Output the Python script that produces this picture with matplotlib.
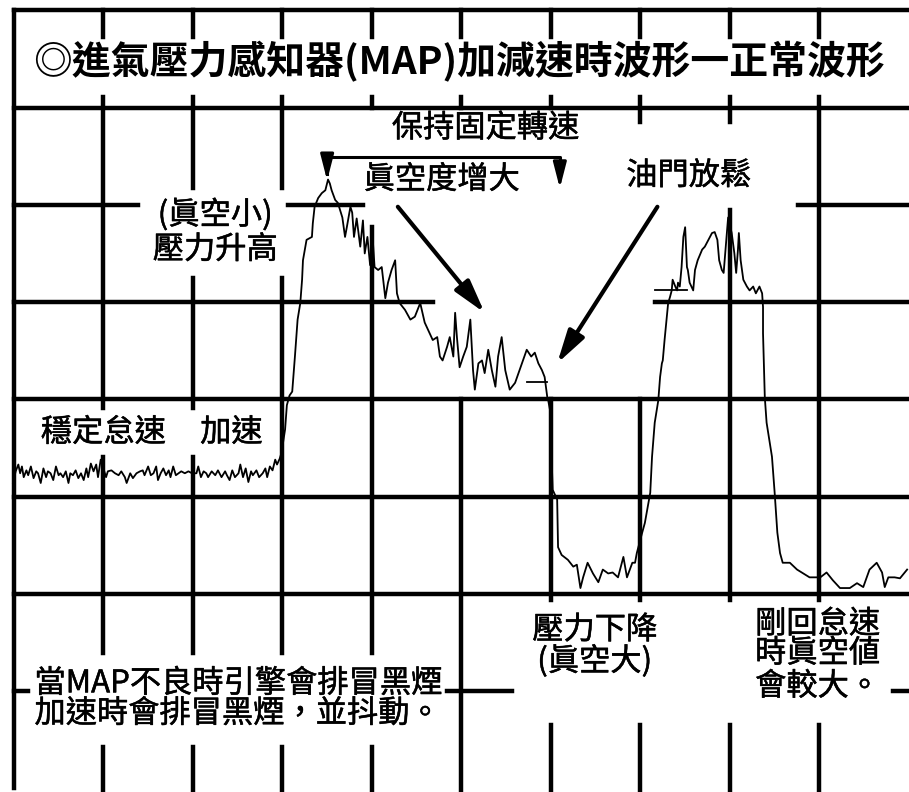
import matplotlib
matplotlib.use('Agg')
import numpy as np
import matplotlib.pyplot as plt
import matplotlib.patheffects as pe

plt.rcParams['font.family'] = ['Noto Sans CJK TC', 'DejaVu Sans']

# scope trace, x in time divisions (0-10), y in volt divisions (0-8)
idle_t = [-0.01, 0.02, 0.05, 0.07, 0.09, 0.11, 0.14, 0.16, 0.19, 0.22,
          0.25, 0.27, 0.30, 0.33, 0.36, 0.38, 0.41, 0.44, 0.47, 0.50,
          0.52, 0.55, 0.58, 0.61, 0.63, 0.66, 0.69, 0.72, 0.75, 0.78,
          0.81, 0.83, 0.86, 0.89, 0.92, 0.94, 0.97,
          1.03, 1.05, 1.09, 1.13, 1.17, 1.20, 1.24, 1.26, 1.30, 1.33,
          1.37, 1.41, 1.44, 1.46, 1.50, 1.53, 1.56, 1.59, 1.61, 1.64,
          1.67, 1.70, 1.73, 1.75, 1.78, 1.81, 1.84, 1.87, 1.91, 1.95, 1.99,
          2.04, 2.06, 2.09, 2.12, 2.15, 2.17, 2.21, 2.25, 2.28, 2.32,
          2.36, 2.38, 2.41, 2.44, 2.47, 2.51, 2.53, 2.56, 2.59, 2.62,
          2.65, 2.67, 2.71, 2.74, 2.78, 2.81, 2.83, 2.86, 2.89, 2.92,
          2.94, 2.97, 2.99]
idle_v = [3.14, 3.26, 3.33, 3.24, 3.31, 3.20, 3.27, 3.22, 3.31, 3.19,
          3.26, 3.24, 3.14, 3.29, 3.20, 3.26, 3.24, 3.17, 3.31, 3.22,
          3.24, 3.20, 3.26, 3.14, 3.24, 3.22, 3.27, 3.19, 3.24, 3.17,
          3.29, 3.20, 3.34, 3.26, 3.33, 3.20, 3.38,
          3.20, 3.26, 3.27, 3.24, 3.22, 3.26, 3.20, 3.14, 3.24, 3.19,
          3.24, 3.26, 3.27, 3.22, 3.31, 3.22, 3.24, 3.31, 3.17, 3.24,
          3.29, 3.22, 3.27, 3.20, 3.31, 3.22, 3.24, 3.26, 3.24, 3.26, 3.24,
          3.24, 3.31, 3.20, 3.26, 3.24, 3.20, 3.26, 3.22, 3.27, 3.20,
          3.26, 3.22, 3.17, 3.27, 3.20, 3.24, 3.33, 3.20, 3.29, 3.15,
          3.26, 3.22, 3.27, 3.20, 3.24, 3.29, 3.20, 3.31, 3.27, 3.38,
          3.33, 3.39, 3.45]

accel_t = [3.03, 3.05, 3.08, 3.11, 3.14, 3.17, 3.20, 3.22, 3.23, 3.27,
           3.33, 3.34, 3.36, 3.40, 3.44, 3.48, 3.51, 3.53, 3.55, 3.59,
           3.62, 3.67, 3.70, 3.72, 3.76, 3.78, 3.80, 3.83, 3.87, 3.90,
           3.92, 3.95, 3.98, 4.01, 4.03, 4.07, 4.11, 4.15, 4.18, 4.22,
           4.26, 4.28, 4.31, 4.37, 4.43, 4.48, 4.54, 4.59, 4.63, 4.68,
           4.73, 4.76, 4.79, 4.84, 4.87, 4.91, 4.93, 4.95, 4.98, 5.02,
           5.06, 5.10, 5.13, 5.15, 5.19, 5.23, 5.26, 5.30, 5.34, 5.38,
           5.41, 5.45, 5.49, 5.54, 5.60, 5.65, 5.73, 5.78, 5.82, 5.86,
           5.90, 5.93, 5.96]
accel_v = [3.69, 3.94, 4.04, 4.08, 4.44, 4.82, 4.99, 5.23, 5.43, 5.64,
           5.67, 5.81, 5.98, 6.07, 6.12, 6.15, 6.26, 6.22, 6.15, 6.05,
           6.02, 5.87, 5.67, 5.77, 5.98, 5.92, 5.67, 5.86, 5.57, 5.84,
           5.50, 5.67, 5.38, 5.64, 5.36, 5.33, 5.36, 5.04, 5.20, 5.33,
           5.43, 5.09, 4.99, 4.92, 4.82, 4.85, 4.99, 4.79, 4.71, 4.61,
           4.64, 4.44, 4.40, 4.54, 4.64, 4.44, 4.89, 4.64, 4.33, 4.44,
           4.54, 4.82, 4.30, 4.10, 4.37, 4.40, 4.27, 4.51, 4.30, 4.13,
           4.44, 4.64, 4.30, 4.10, 4.17, 4.30, 4.51, 4.44, 4.48, 4.37,
           4.30, 4.23, 4.02]

release_t = [5.97, 5.99, 6.02, 6.07, 6.08, 6.12, 6.19, 6.25, 6.29, 6.33,
             6.36, 6.41, 6.47, 6.53, 6.58, 6.64, 6.69, 6.75, 6.81, 6.85,
             6.91, 6.94, 6.96, 7.02, 7.05, 7.11, 7.13, 7.16, 7.20]
release_v = [3.99, 3.89, 3.07, 2.97, 2.48, 2.40, 2.35, 2.28, 2.30, 2.06,
             2.17, 2.32, 2.21, 2.12, 2.25, 2.21, 2.22, 2.17, 2.38, 2.17,
             2.32, 2.32, 2.42, 2.63, 2.73, 3.04, 3.41, 3.76, 3.99]

snap_t = [7.22, 7.24, 7.25, 7.27, 7.30, 7.31, 7.33, 7.35, 7.36, 7.39,
          7.41, 7.42, 7.44, 7.46, 7.48, 7.50, 7.52, 7.53, 7.55, 7.58,
          7.59, 7.61, 7.64, 7.69, 7.72, 7.76, 7.80, 7.83, 7.86, 7.88,
          7.91, 7.93, 7.98, 8.02, 8.05, 8.07, 8.09, 8.10, 8.12, 8.15,
          8.19, 8.22, 8.26, 8.29, 8.33, 8.36, 8.37, 8.37, 8.38, 8.39]
snap_v = [4.23, 4.37, 4.40, 4.61, 4.89, 4.99, 5.05, 5.12, 5.23, 5.16,
          5.12, 5.20, 5.16, 5.36, 5.67, 5.77, 5.36, 5.33, 5.20, 5.14,
          5.12, 5.33, 5.43, 5.54, 5.57, 5.64, 5.71, 5.72, 5.64, 5.43,
          5.33, 5.30, 5.87, 5.71, 5.50, 5.30, 5.54, 5.71, 5.43, 5.23,
          5.16, 5.12, 5.16, 5.09, 5.16, 5.09, 4.95, 4.68, 4.33, 4.02]

back_idle_t = [8.41, 8.47, 8.50, 8.53, 8.56, 8.59, 8.67, 8.75, 8.82, 8.89,
               9.01, 9.08, 9.15, 9.23, 9.34, 9.42, 9.49, 9.56, 9.64, 9.70,
               9.73, 9.77, 9.84, 9.90, 9.98]
back_idle_v = [3.76, 3.41, 3.04, 2.63, 2.42, 2.32, 2.32, 2.25, 2.21, 2.17,
               2.17, 2.22, 2.14, 2.06, 2.06, 2.11, 2.07, 2.25, 2.32, 2.22,
               2.07, 2.17, 2.17, 2.16, 2.25]

# short cursor marks left on the trace (t_start, t_end, level)
cursor_marks = [(7.16, 7.52, 5.12), (5.73, 5.96, 4.18)]

# graticule: which parts of each line are visible (text knocks holes in it)
col_segments = {
    0: [(0, 8)],
    1: [(7.73, 8), (3.91, 7.11), (1.39, 3.41), (-0.1, 0.43)],
    2: [(7.73, 8), (6.17, 7.11), (3.91, 5.25), (1.39, 3.41), (-0.1, 0.43)],
    3: [(7.73, 8), (6.17, 7.11), (1.39, 5.25), (-0.1, 0.43)],
    4: [(7.73, 8), (7.0, 7.11), (1.39, 5.77), (-0.1, 0.43)],
    5: [(7.73, 8), (7.0, 7.11), (-0.1, 4.0)],
    6: [(7.73, 8), (7.0, 7.11), (1.94, 4.0), (-0.1, 0.65)],
    7: [(7.73, 8), (6.85, 7.11), (1.94, 4.0), (-0.1, 0.65)],
    8: [(7.73, 8), (6.85, 7.11), (1.94, 5.95), (-0.1, 0.65)],
    9: [(7.73, 8), (1.94, 7.11), (-0.1, 0.65)],
}
row_segments = {
    8: [(0, 10.2)],
    7: [(0, 10.2)],
    6: [(0, 1.39), (3.06, 3.90), (8.76, 10.2)],
    5: [(0, 4.68), (7.16, 10.2)],
    4: [(0, 10.2)],
    3: [(0, 10.2)],
    2: [(0, 10.2)],
    1: [(0, 0.16), (4.84, 5.56), (9.82, 10.2)],
}

fig = plt.figure(figsize=(9.09, 7.92), dpi=100)
ax = fig.add_axes([0, 0, 1, 1])
ax.set_xlim(-0.155, 10.001)
ax.set_ylim(-0.037, 8.106)
ax.axis('off')

grid_lw = 3.2
for c, segs in col_segments.items():
    for y0, y1 in segs:
        ax.plot([c, c], [y0, y1], color='black', lw=grid_lw, solid_capstyle='projecting', zorder=1)
for r, segs in row_segments.items():
    for x0, x1 in segs:
        ax.plot([x0, x1], [r, r], color='black', lw=grid_lw, solid_capstyle='projecting', zorder=1)

# the trace
t = np.concatenate([idle_t, accel_t, release_t, snap_t, back_idle_t])
v = np.concatenate([idle_v, accel_v, release_v, snap_v, back_idle_v])
ax.plot(t, v, color='black', lw=1.3, zorder=3)
for t0, t1, lv in cursor_marks:
    ax.plot([t0, t1], [lv, lv], color='black', lw=1.3, zorder=3)

# slightly heavier strokes, like the printed labels
heavy = [pe.withStroke(linewidth=0.35, foreground='black')]

# title
ax.text(4.97, 7.47, '◎進氣壓力感知器(MAP)加減速時波形一正常波形',
        fontsize=28, fontweight='bold', ha='center', va='center')

fs = 22.5
labels = [
    (5.27, 6.79, '保持固定轉速', 'center'),
    (4.78, 6.26, '眞空度增大', 'center'),
    (7.54, 6.30, '油門放鬆', 'center'),
    (2.25, 5.90, '(眞空小)', 'center'),
    (2.25, 5.54, '壓力升高', 'center'),
    (1.00, 3.66, '穩定怠速', 'center'),
    (2.43, 3.66, '加速', 'center'),
    (6.49, 1.63, '壓力下降', 'center'),
    (6.49, 1.31, '(眞空大)', 'center'),
    (8.98, 1.69, '剛回怠速', 'center'),
    (8.98, 1.39, '時眞空値', 'center'),
    (8.98, 1.05, '會較大。', 'center'),
    (0.23, 1.08, '當MAP不良時引擎會排冒黑煙', 'left'),
    (0.23, 0.77, '加速時會排冒黑煙，並抖動。', 'left'),
]
for x, y, s, ha in labels:
    ax.text(x, y, s, fontsize=fs, ha=ha, va='center', path_effects=heavy)

# bracket over the "constant speed" span
ax.plot([3.50, 3.50, 6.10, 6.10], [6.32, 6.49, 6.49, 6.32], color='black', lw=2.2, zorder=4)
bracket_style = dict(arrowstyle='-|>,head_length=0.7,head_width=0.18', color='black',
                     lw=2.2, mutation_scale=22, shrinkA=0, shrinkB=0)
ax.annotate('', xy=(3.50, 6.25), xytext=(3.50, 6.40), arrowprops=bracket_style)
ax.annotate('', xy=(6.10, 6.17), xytext=(6.10, 6.40), arrowprops=bracket_style)

arrow_style = dict(arrowstyle='-|>,head_length=0.8,head_width=0.22', color='black',
                   lw=3.0, mutation_scale=25, shrinkA=0, shrinkB=0)
ax.annotate('', xy=(5.26, 4.89), xytext=(4.29, 5.98), arrowprops=arrow_style)
ax.annotate('', xy=(6.07, 4.37), xytext=(7.19, 5.98), arrowprops=arrow_style)

fig.savefig('out.png', dpi=100, facecolor='white')
